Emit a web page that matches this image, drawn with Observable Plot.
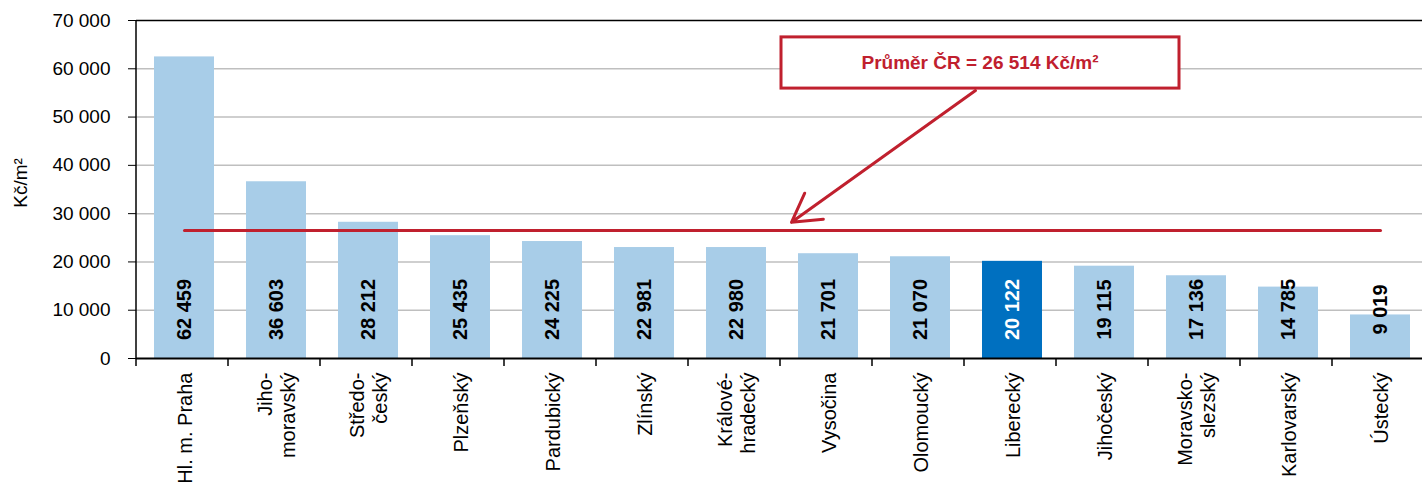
<!DOCTYPE html>
<html>
<head>
<meta charset="utf-8">
<script src="https://cdn.jsdelivr.net/npm/d3@7"></script>
<script src="https://cdn.jsdelivr.net/npm/@observablehq/plot@0.6"></script>
<style>
  html, body { margin: 0; padding: 0; background: #fff; overflow: hidden; }
  #chart svg { display: block; }
</style>
</head>
<body>
<div id="chart"></div>
<script>
const categories = ["Hl. m. Praha","Jihomoravský","Středočeský","Plzeňský","Pardubický","Zlínský","Královéhradecký","Vysočina","Olomoucký","Liberecký","Jihočeský","Moravskoslezský","Karlovarský","Ústecký"];
const tickLabels = ["Hl. m. Praha","Jiho-\nmoravský","Středo-\nčeský","Plzeňský","Pardubický","Zlínský","Králové-\nhradecký","Vysočina","Olomoucký","Liberecký","Jihočeský","Moravsko-\nslezský","Karlovarský","Ústecký"];
const values = [62459,36603,28212,25435,24225,22981,22980,21701,21070,20122,19115,17136,14785,9019];
const highlight = "Liberecký";
const average = 26514;
const yTicks = [0,10000,20000,30000,40000,50000,60000,70000];
const yLabel = "Kč/m²";
const annotationText = "Průměr ČR = 26 514 Kč/m²";

const RED = "#c0202e";
const BLUE = "#a8cde8";
const DARK = "#0070c0";
const FONT = "'Liberation Sans', Arial, Helvetica, sans-serif";

const fmt = n => d3.format(",")(n).replace(/,/g, " ");
const data = categories.map((c, i) => ({region: c, value: values[i]}));
const avgLine = [{region: categories[0], value: average}, {region: categories[categories.length - 1], value: average}];
const arrowData = [{from: "Liberecký", to: "Vysočina", y1: 55500, y2: 28200}];

// axis lines + category boundary ticks + y label
function axesMark(index, scales, values, dim) {
  const {x, y} = scales;
  const g = d3.create("svg:g");
  const left = dim.marginLeft;
  g.append("line").attr("x1", left).attr("x2", left)
    .attr("y1", y(70000)).attr("y2", y(0)).attr("stroke", "#000").attr("stroke-width", 1.5);
  const step = x.step();
  const start = x.range()[0];
  for (let i = 0; i <= categories.length; i++) {
    const px = start + i * step;
    g.append("line").attr("x1", px).attr("x2", px)
      .attr("y1", y(0)).attr("y2", y(0) + 8).attr("stroke", "#000").attr("stroke-width", 1.5);
  }
  g.append("text").attr("transform", `translate(22,${(y(0) + y(70000)) / 2 - 6}) rotate(-90)`)
    .attr("text-anchor", "middle").attr("dominant-baseline", "middle")
    .attr("font-size", 19).attr("fill", "#000").text(yLabel);
  return g.node();
}

// annotation box
function boxMark(index, scales, values, dim) {
  const {x, y} = scales;
  const bw = x.bandwidth();
  const cx = x("Liberecký") + bw / 2 - 32;
  const top = y(66500), bottom = y(55900);
  const w = 398;
  const g = d3.create("svg:g");
  g.append("rect").attr("x", cx - w / 2).attr("y", top).attr("width", w).attr("height", bottom - top)
    .attr("fill", "#fff").attr("stroke", RED).attr("stroke-width", 3);
  g.append("text").attr("x", cx).attr("y", (top + bottom) / 2)
    .attr("text-anchor", "middle").attr("dominant-baseline", "central")
    .attr("font-size", 19).attr("font-weight", "bold").attr("fill", RED).text(annotationText);
  return g.node();
}

const chart = Plot.plot({
  width: 1422,
  height: 488,
  marginLeft: 136,
  marginRight: 0,
  marginTop: 20,
  marginBottom: 130,
  style: {fontFamily: FONT, background: "#fff", color: "#000"},
  x: {domain: categories, range: [136, 1428], paddingInner: 0.35, paddingOuter: 0.175, axis: null},
  y: {domain: [0, 70000], range: [358, 20], axis: null},
  marks: [
    Plot.gridY(yTicks.filter(v => v > 0 && v < 70000), {stroke: "#bfbfbf", strokeOpacity: 1, strokeWidth: 1.5}),
    Plot.ruleY([70000], {stroke: "#000", strokeWidth: 1.5}),
    Plot.barY(data, {x: "region", y: "value", fill: d => d.region === highlight ? DARK : BLUE}),
    Plot.ruleY([0], {stroke: "#000", strokeWidth: 2}),
    Plot.axisY({ticks: yTicks, tickSize: 8, tickPadding: 18, tickFormat: fmt, fontSize: 19, label: null}),
    Plot.axisX({tickSize: 0, tickPadding: 14, tickRotate: -90, fontSize: 20, label: null,
      tickFormat: d => tickLabels[categories.indexOf(d)], lineHeight: 1.15}),
    axesMark,
    Plot.text(data, {x: "region", y: () => 0, dy: -49, rotate: -90, text: d => fmt(d.value),
      fontWeight: "bold", fontSize: 20, textAnchor: "middle",
      fill: d => d.region === highlight ? "#fff" : "#000"}),
    Plot.line(avgLine, {x: "region", y: "value", stroke: RED, strokeWidth: 3}),
    Plot.arrow(arrowData, {x1: "from", y1: "y1", x2: "to", y2: "y2", dx: -37, stroke: RED, strokeWidth: 3, headLength: 16, headAngle: 60}),
    boxMark
  ]
});
document.getElementById("chart").append(chart);
</script>
</body>
</html>
